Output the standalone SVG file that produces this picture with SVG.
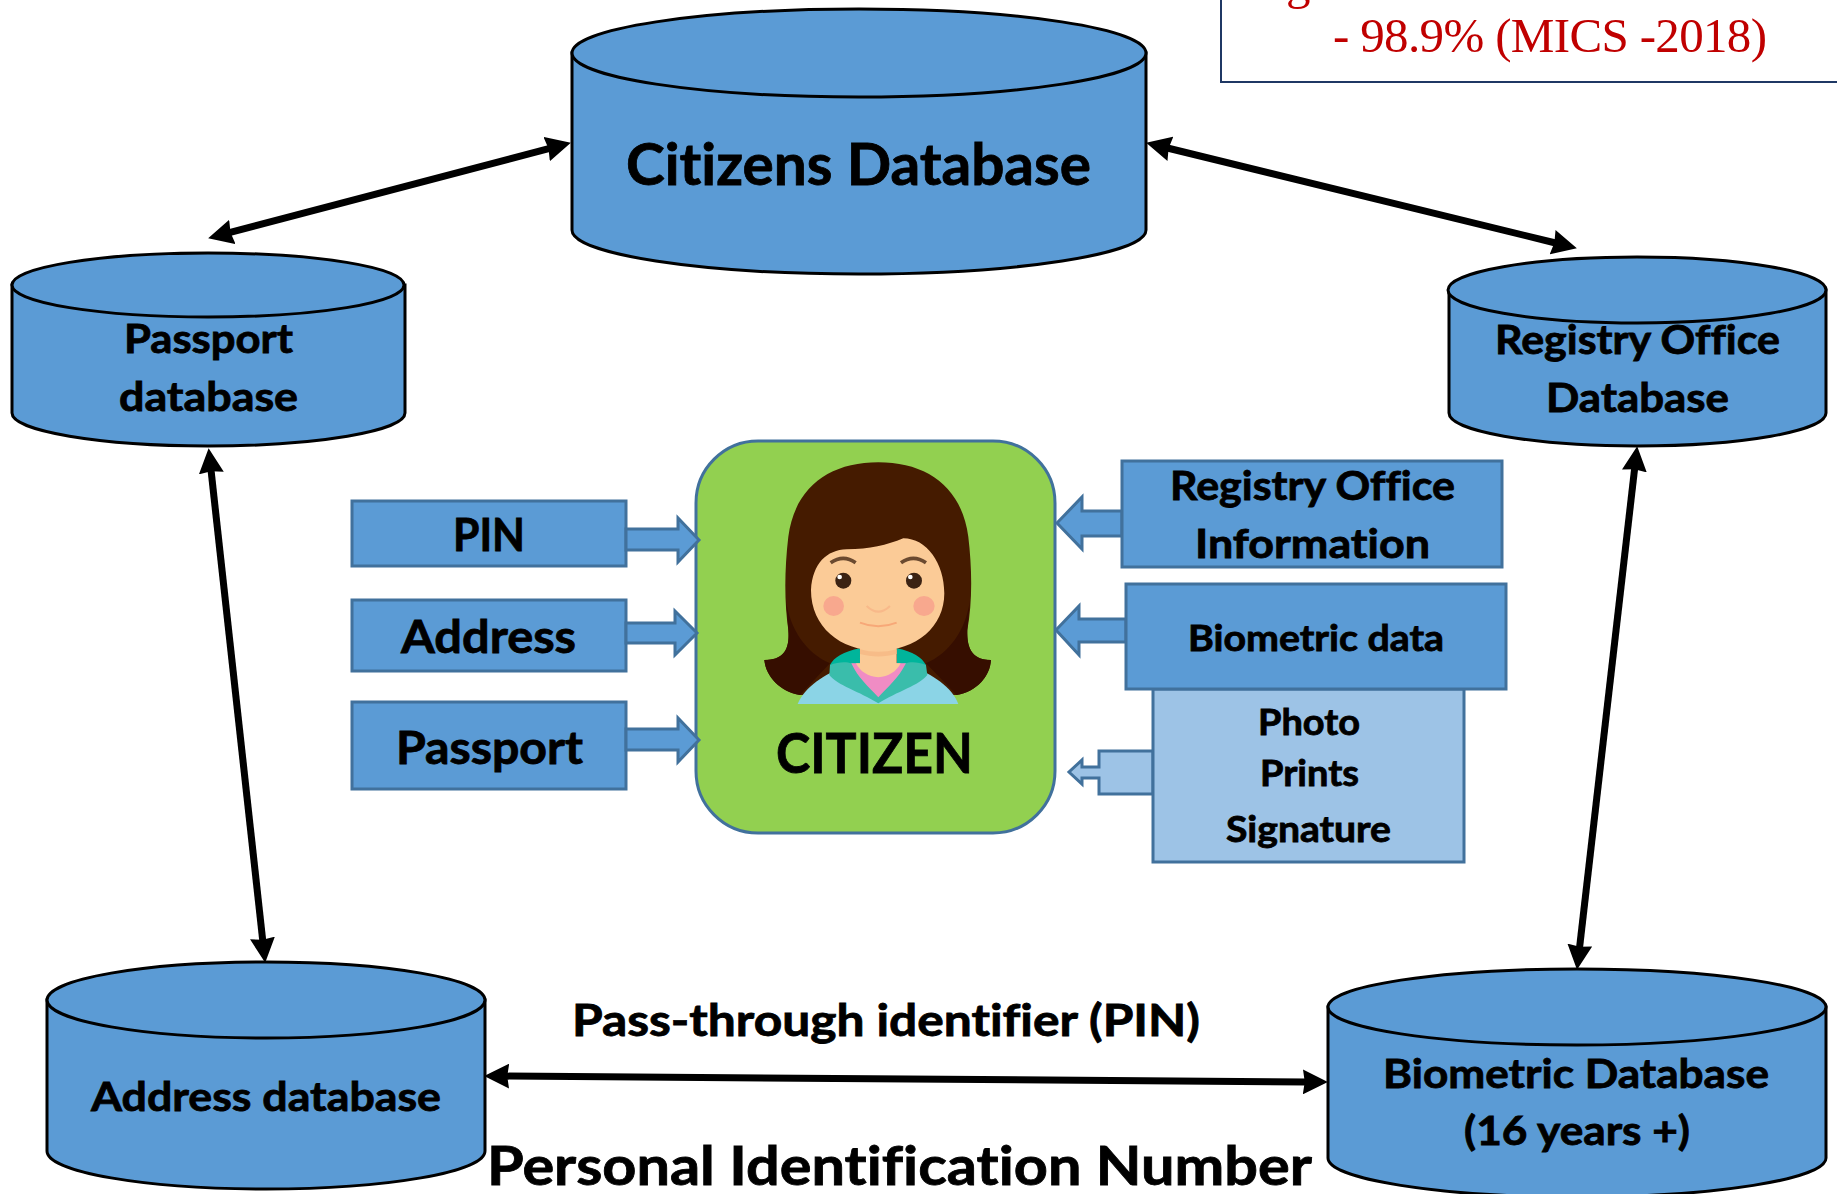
<svg xmlns="http://www.w3.org/2000/svg" width="1837" height="1194" viewBox="0 0 1837 1194">
<style>
text{font-family:"Lato","Liberation Sans",sans-serif;font-weight:700;fill:#000;stroke:#000;stroke-width:.8;font-variant-ligatures:none}
.red{font-family:"Liberation Serif",serif;font-weight:400;fill:#C00000;stroke:none;font-size:49px}
.cyl path,.cyl ellipse{fill:#5B9BD5;stroke:#000;stroke-width:3}
.box{fill:#5B9BD5;stroke:#41719C;stroke-width:3}
.lite{fill:#9DC3E6;stroke:#41719C;stroke-width:3}
.conn{stroke:#000;stroke-width:7;fill:none;marker-start:url(#h);marker-end:url(#h)}
.t40{font-size:40px}.t46{font-size:46px}.t36{font-size:36px}
</style>
<defs>
<marker id="h" markerUnits="userSpaceOnUse" markerWidth="25" markerHeight="25" viewBox="0 0 4 4" refX="0.5" refY="2" orient="auto-start-reverse"><path d="M0,0 L4,2 L0,4 L0.3,2 Z" fill="#000"/></marker>
</defs>
<rect width="1837" height="1194" fill="#fff"/>

<g id="note">
<rect x="1221" y="-10" width="700" height="92" fill="#fff" stroke="#1F3864" stroke-width="2"/>
<text class="red" x="1286" y="-1">g</text>
<text class="red" x="1333" y="52" textLength="434" lengthAdjust="spacing">- 98.9% (MICS -2018)</text>
</g>

<g id="citizens-db" class="cyl">
<path d="M572,53 V230 C572,254 700,274 859,274 C1018,274 1146,254 1146,230 V53 Z"/>
<ellipse cx="859" cy="53" rx="287" ry="44"/>
<text x="626" y="185" font-size="58" textLength="465" lengthAdjust="spacingAndGlyphs">Citizens Database</text>
</g>
<g id="passport-db" class="cyl">
<path d="M12,285 V413 C12,431 100,446 208,446 C317,446 405,431 405,413 V285 Z"/>
<ellipse cx="208" cy="285" rx="196" ry="32"/>
<text class="t40" x="124" y="353" textLength="169" lengthAdjust="spacingAndGlyphs">Passport</text>
<text class="t40" x="119" y="411" textLength="179" lengthAdjust="spacingAndGlyphs">database</text>
</g>
<g id="registry-db" class="cyl">
<path d="M1449,290 V413 C1449,431 1533,446 1637,446 C1742,446 1826,431 1826,413 V290 Z"/>
<ellipse cx="1637" cy="290" rx="189" ry="33"/>
<text class="t40" x="1495" y="354" textLength="285" lengthAdjust="spacingAndGlyphs">Registry Office</text>
<text class="t40" x="1546" y="412" textLength="183" lengthAdjust="spacingAndGlyphs">Database</text>
</g>
<g id="address-db" class="cyl">
<path d="M47,1000 V1151 C47,1172 145,1189 266,1189 C387,1189 485,1172 485,1151 V1000 Z"/>
<ellipse cx="266" cy="1000" rx="219" ry="38"/>
<text class="t40" x="91" y="1111" textLength="350" lengthAdjust="spacingAndGlyphs">Address database</text>
</g>
<g id="biometric-db" class="cyl">
<path d="M1328,1007 V1158 C1328,1179 1439,1197 1577,1197 C1715,1197 1826,1179 1826,1158 V1007 Z"/>
<ellipse cx="1577" cy="1007" rx="249" ry="38"/>
<text class="t40" x="1383" y="1088" textLength="386" lengthAdjust="spacingAndGlyphs">Biometric Database</text>
<text class="t40" x="1464" y="1145" textLength="226" lengthAdjust="spacingAndGlyphs">(16 years +)</text>
</g>

<g id="connectors">
<line class="conn" x1="229.3" y1="232.7" x2="549.7" y2="148.3"/>
<line class="conn" x1="1167.4" y1="148" x2="1555.6" y2="243"/>
<line class="conn" x1="211" y1="469.9" x2="262.8" y2="941.1"/>
<line class="conn" x1="1634.7" y1="467.9" x2="1579.5" y2="948.1"/>
<line class="conn" x1="506" y1="1076.1" x2="1306" y2="1081.9"/>
</g>

<g id="citizen">
<rect x="696" y="441" width="359" height="392" rx="62" fill="#92D050" stroke="#41719C" stroke-width="3"/>
<g id="avatar" transform="translate(680 430) scale(0.3333)">
<path d="M595,97 C450,97 345,170 325,320 C313,420 313,520 325,600 C330,660 310,690 253,690 C258,740 300,785 360,795 L830,795 C890,785 930,740 933,690 C880,690 860,660 862,600 C877,520 877,420 865,320 C845,170 740,97 595,97 Z" fill="#451B00"/>
<path d="M318,510 C330,600 380,670 450,700 L360,795 C300,785 258,740 253,690 C310,690 330,660 325,600 Z" fill="#360E00"/>
<path d="M870,510 C858,600 808,670 738,700 L830,795 C890,785 930,740 933,690 C880,690 860,660 862,600 Z" fill="#360E00"/>
<path d="M353,822 C375,770 430,735 500,705 L690,705 C760,735 815,770 835,822 Z" fill="#8BD4E6"/>
<path d="M540,655 C490,665 462,682 450,705 L515,705 L540,700 Z M650,655 C700,665 725,682 738,705 L676,705 L650,700 Z" fill="#00B59B"/>
<path d="M448,735 L450,705 C475,695 500,695 514,700 L676,700 C690,695 715,695 738,705 L742,735 C720,765 650,785 595,820 C540,785 470,765 448,735 Z" fill="#3ABDAB"/>
<path d="M514,700 C535,745 565,770 595,802 C625,770 655,745 678,700 Z" fill="#F08CC4"/>
<path d="M540,600 H650 V700 H662 C650,725 625,740 595,742 C565,740 540,725 528,700 H540 Z" fill="#FBCB97"/>
<path d="M393,480 C398,400 440,360 500,358 C570,358 620,345 670,325 C740,325 793,400 793,490 C793,590 710,662 593,662 C480,662 393,590 393,480 Z" fill="#FBCB97"/>
<path d="M540,658 C575,668 615,668 650,658 V672 C615,682 575,682 540,672 Z" fill="#F7BC88"/>
<path d="M452,398 Q490,372 527,398 M663,398 Q700,372 738,398" fill="none" stroke="#6B4A30" stroke-width="11"/>
<circle cx="490" cy="452" r="24" fill="#3B2314"/><circle cx="702" cy="452" r="24" fill="#3B2314"/>
<circle cx="479" cy="441" r="7" fill="#fff"/><circle cx="691" cy="441" r="7" fill="#fff"/>
<ellipse cx="461" cy="528" rx="31" ry="30" fill="#F8A88E"/><ellipse cx="732" cy="528" rx="32" ry="30" fill="#F8A88E"/>
<path d="M560,528 Q595,562 630,528" fill="none" stroke="#F8B98A" stroke-width="6"/>
<path d="M540,578 Q595,600 650,578" fill="none" stroke="#F7A878" stroke-width="6"/>
</g>
<text x="776" y="773" font-size="56" textLength="197" lengthAdjust="spacingAndGlyphs">CITIZEN</text>
</g>

<g id="pin-box">
<rect class="box" x="352" y="501" width="274" height="65"/>
<text class="t46" x="453" y="551" textLength="72" lengthAdjust="spacingAndGlyphs">PIN</text>
<path class="box" d="M626,529 H678 V518 L699,540 L678,562 V550 H626 Z"/>
</g>
<g id="address-box">
<rect class="box" x="352" y="600" width="274" height="71"/>
<text class="t46" x="401" y="653" textLength="175" lengthAdjust="spacingAndGlyphs">Address</text>
<path class="box" d="M626,623 H675 V611 L697,633 L675,655 V643 H626 Z"/>
</g>
<g id="passport-box">
<rect class="box" x="352" y="702" width="274" height="87"/>
<text class="t46" x="396" y="764" textLength="187" lengthAdjust="spacingAndGlyphs">Passport</text>
<path class="box" d="M626,729 H678 V718 L699,740 L678,762 V750 H626 Z"/>
</g>
<g id="registry-box">
<path class="box" d="M1122,511 H1082 V497 L1057,523 L1082,549 V536 H1122 Z"/>
<rect class="box" x="1122" y="461" width="380" height="106"/>
<text class="t40" x="1170" y="500" textLength="285" lengthAdjust="spacingAndGlyphs">Registry Office</text>
<text class="t40" x="1195" y="558" textLength="235" lengthAdjust="spacingAndGlyphs">Information</text>
</g>
<g id="photo-box">
<path class="lite" d="M1153,751 H1099 V767 H1082 V760 L1069,772 L1082,784 V778 H1099 V794 H1153 Z"/>
<rect class="lite" x="1153" y="689" width="311" height="173"/>
<text class="t36" x="1258" y="735" textLength="102" lengthAdjust="spacingAndGlyphs">Photo</text>
<text class="t36" x="1260" y="786" textLength="99" lengthAdjust="spacingAndGlyphs">Prints</text>
<text class="t36" x="1226" y="842" textLength="165" lengthAdjust="spacingAndGlyphs">Signature</text>
</g>
<g id="biometric-box">
<path class="box" d="M1126,619 H1079 V606 L1056,630 L1079,655 V642 H1126 Z"/>
<rect class="box" x="1126" y="584" width="380" height="105"/>
<text class="t36" x="1188" y="651" textLength="256" lengthAdjust="spacingAndGlyphs">Biometric data</text>
</g>

<g id="labels">
<text x="572" y="1036" font-size="44" textLength="628" lengthAdjust="spacingAndGlyphs">Pass-through identifier (PIN)</text>
<text x="487" y="1185" font-size="54" textLength="825" lengthAdjust="spacingAndGlyphs">Personal Identification Number</text>
</g>
</svg>
